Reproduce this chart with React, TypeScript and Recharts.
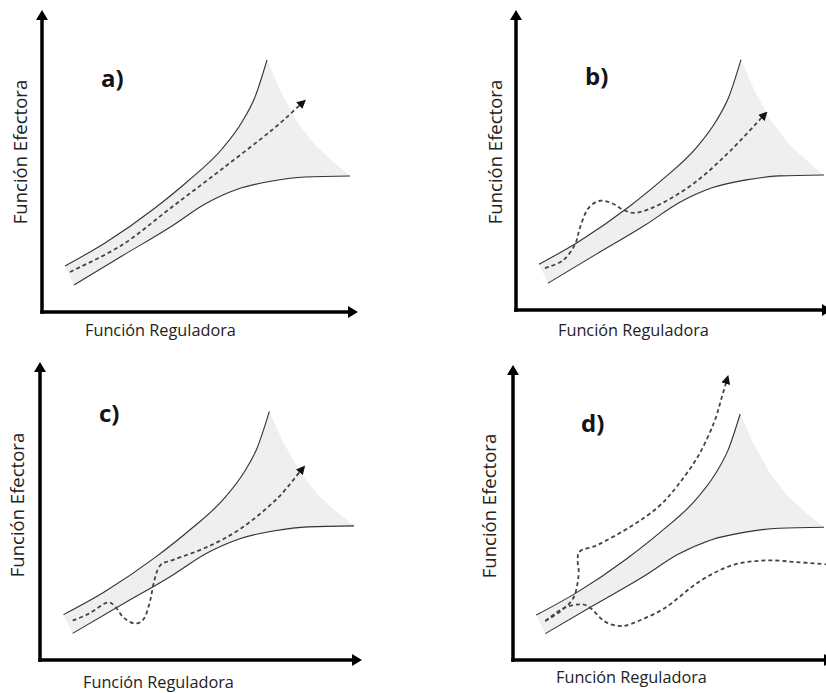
import { ComposedChart, Area, Line, XAxis, YAxis } from "recharts";

type Pt = { x: number; y: number };

// Canalization funnel (same drawing in all four panels)
// x = Función Reguladora, y = Función Efectora (arbitrary units, origin at the axes corner)
const UPPER_EDGE: Pt[] = [
  { x: 23, y: 46 },
  { x: 63, y: 69 },
  { x: 113, y: 104 },
  { x: 146, y: 131 },
  { x: 180, y: 163 },
  { x: 200, y: 190 },
  { x: 213, y: 215 },
  { x: 225, y: 252 },
];

const LOWER_EDGE: Pt[] = [
  { x: 32, y: 27 },
  { x: 80, y: 56 },
  { x: 130, y: 86 },
  { x: 163, y: 108 },
  { x: 196, y: 123 },
  { x: 230, y: 131 },
  { x: 263, y: 135 },
  { x: 308, y: 136 },
];

// shaded zone between the edges, closed on the right by a concave rim
const BAND_X = [23, 32, 63, 80, 113, 130, 146, 163, 180, 196, 213, 225, 238, 254, 272, 290, 308];
const BAND_LO = [46, 27, 46, 56, 76, 86, 97, 108, 115, 123, 127, 129, 131, 133, 135, 136, 136];
const BAND_HI = [46, 51, 69, 81, 104, 119, 131, 148, 163, 185, 215, 252, 222, 192, 168, 151, 136];

// trajectories (dashed)
const PATH_A: Pt[] = [
  { x: 28, y: 40 },
  { x: 80, y: 67 },
  { x: 130, y: 105 },
  { x: 180, y: 143 },
  { x: 230, y: 182 },
  { x: 258, y: 207 },
];

const PATH_B: Pt[] = [
  { x: 29, y: 42 },
  { x: 47, y: 50 },
  { x: 59, y: 66 },
  { x: 64, y: 83 },
  { x: 72, y: 102 },
  { x: 84, y: 110 },
  { x: 97, y: 107 },
  { x: 107, y: 101 },
  { x: 121, y: 98 },
  { x: 147, y: 108 },
  { x: 181, y: 130 },
  { x: 214, y: 160 },
  { x: 246, y: 194 },
];

const PATH_C: Pt[] = [
  { x: 32, y: 40 },
  { x: 48, y: 47 },
  { x: 65, y: 58 },
  { x: 73, y: 55 },
  { x: 82, y: 43 },
  { x: 93, y: 37 },
  { x: 102, y: 42 },
  { x: 108, y: 60 },
  { x: 112, y: 80 },
  { x: 118, y: 96 },
  { x: 132, y: 102 },
  { x: 165, y: 115 },
  { x: 198, y: 134 },
  { x: 232, y: 163 },
  { x: 255, y: 191 },
];

const PATH_D_UP: Pt[] = [
  { x: 32, y: 40 },
  { x: 47, y: 50 },
  { x: 60, y: 64 },
  { x: 65, y: 87 },
  { x: 64, y: 103 },
  { x: 67, y: 112 },
  { x: 84, y: 118 },
  { x: 117, y: 137 },
  { x: 144, y: 157 },
  { x: 164, y: 180 },
  { x: 184, y: 210 },
  { x: 199, y: 243 },
  { x: 207, y: 270 },
  { x: 211, y: 284 },
];

const PATH_D_DOWN: Pt[] = [
  { x: 32, y: 40 },
  { x: 50, y: 53 },
  { x: 67, y: 57 },
  { x: 77, y: 53 },
  { x: 90, y: 40 },
  { x: 104, y: 35 },
  { x: 117, y: 37 },
  { x: 150, y: 53 },
  { x: 184, y: 80 },
  { x: 217, y: 97 },
  { x: 250, y: 102 },
  { x: 284, y: 100 },
  { x: 310, y: 98 },
];

const PANEL_LETTERS = ["a)", "b)", "c)", "d)"];
const X_TITLE = "Función Reguladora";
const Y_TITLE = "Función Efectora";
const Y_MAX = 294;

// smooth curve through every point (Catmull-Rom), d3 curve interface
function catmullRom(context: any) {
  let pts: number[][] = [];
  return {
    areaStart() {},
    areaEnd() {},
    lineStart() {
      pts = [];
    },
    point(x: number, y: number) {
      pts.push([+x, +y]);
    },
    lineEnd() {
      if (!pts.length) return;
      context.moveTo(pts[0][0], pts[0][1]);
      for (let i = 0; i < pts.length - 1; i++) {
        const p0 = pts[i - 1] || pts[i];
        const p1 = pts[i];
        const p2 = pts[i + 1];
        const p3 = pts[i + 2] || p2;
        context.bezierCurveTo(
          p1[0] + (p2[0] - p0[0]) / 6,
          p1[1] + (p2[1] - p0[1]) / 6,
          p2[0] - (p3[0] - p1[0]) / 6,
          p2[1] - (p3[1] - p1[1]) / 6,
          p2[0],
          p2[1]
        );
      }
    },
  };
}

interface PanelCfg {
  id: string;
  left: number;
  top: number;
  width: number;
  height: number;
  // origin of the axes and the far ends of the axis lines, in panel pixels
  originX: number;
  originY: number;
  axisRight: number;
  axisTop: number;
  xMax: number;
  paths: { points: Pt[]; arrow: boolean }[];
  letter: { x: number; y: number };
  xTitle: { x: number; y: number };
  yTitle: { x: number; y: number };
}

const PANELS: PanelCfg[] = [
  {
    id: "a",
    left: 0,
    top: 0,
    width: 413,
    height: 347,
    originX: 42,
    originY: 312,
    axisRight: 350,
    axisTop: 18,
    xMax: 308,
    paths: [{ points: PATH_A, arrow: true }],
    letter: { x: 101, y: 78 },
    xTitle: { x: 85, y: 330 },
    yTitle: { x: 20, y: 152 },
  },
  {
    id: "b",
    left: 413,
    top: 0,
    width: 413,
    height: 347,
    originX: 103,
    originY: 310,
    axisRight: 411,
    axisTop: 18,
    xMax: 308,
    paths: [{ points: PATH_B, arrow: true }],
    letter: { x: 172, y: 76 },
    xTitle: { x: 145, y: 330 },
    yTitle: { x: 82, y: 152 },
  },
  {
    id: "c",
    left: 0,
    top: 347,
    width: 413,
    height: 346,
    originX: 40,
    originY: 313,
    axisRight: 354,
    axisTop: 23,
    xMax: 308,
    paths: [{ points: PATH_C, arrow: true }],
    letter: { x: 99, y: 66 },
    xTitle: { x: 83, y: 335 },
    yTitle: { x: 17, y: 158 },
  },
  {
    id: "d",
    left: 413,
    top: 347,
    width: 413,
    height: 346,
    originX: 100,
    originY: 313,
    axisRight: 413,
    axisTop: 26,
    xMax: 310,
    paths: [
      { points: PATH_D_UP, arrow: true },
      { points: PATH_D_DOWN, arrow: false },
    ],
    letter: { x: 168, y: 76 },
    xTitle: { x: 143, y: 330 },
    yTitle: { x: 76, y: 159 },
  },
];

const FONT = '"Open Sans", "Noto Sans", sans-serif';

function Panel({ cfg, letter }: { cfg: PanelCfg; letter: string }) {
  const band = BAND_X.map((x, i) => ({ x, band: [BAND_LO[i], BAND_HI[i]] }));
  const axisId = `axis-arrow-${cfg.id}`;
  const tipId = `path-arrow-${cfg.id}`;
  // axes need a 1px box to be drawn; the line sits on the plot edge
  const margin = {
    top: cfg.axisTop,
    left: cfg.originX - 1,
    right: cfg.width - cfg.axisRight,
    bottom: cfg.height - cfg.originY - 1,
  };
  return (
    <div
      style={{
        position: "absolute",
        left: cfg.left,
        top: cfg.top,
        width: cfg.width,
        height: cfg.height,
        overflow: "hidden",
      }}
    >
      <ComposedChart width={cfg.width} height={cfg.height} margin={margin}>
        <defs>
          <marker
            id={axisId}
            viewBox="0 0 10 12"
            markerWidth={10}
            markerHeight={12}
            refX={2}
            refY={6}
            markerUnits="userSpaceOnUse"
            orient="auto-start-reverse"
          >
            <path d="M0,0 L10,6 L0,12 z" fill="#000" />
          </marker>
          <marker
            id={tipId}
            viewBox="0 0 9 9"
            markerWidth={9}
            markerHeight={9}
            refX={1}
            refY={4.5}
            markerUnits="userSpaceOnUse"
            orient="auto"
          >
            <path d="M0,0 L9,4.5 L0,9 z" fill="#111" />
          </marker>
        </defs>
        <XAxis
          type="number"
          dataKey="x"
          domain={[0, cfg.xMax]}
          height={1}
          tick={false}
          tickLine={false}
          axisLine={{
            stroke: "#000",
            strokeWidth: 3.5,
            strokeLinecap: "square",
            markerEnd: `url(#${axisId})`,
          }}
        />
        <YAxis
          type="number"
          domain={[0, Y_MAX]}
          width={1}
          tick={false}
          tickLine={false}
          axisLine={{
            stroke: "#000",
            strokeWidth: 3.5,
            strokeLinecap: "square",
            markerStart: `url(#${axisId})`,
          }}
        />
        <Area
          data={band}
          dataKey="band"
          type="linear"
          stroke="none"
          fill="#efefef"
          fillOpacity={1}
          activeDot={false}
          isAnimationActive={false}
        />
        <Line
          data={UPPER_EDGE}
          dataKey="y"
          type="monotone"
          stroke="#333"
          strokeWidth={1.1}
          dot={false}
          activeDot={false}
          isAnimationActive={false}
        />
        <Line
          data={LOWER_EDGE}
          dataKey="y"
          type="monotone"
          stroke="#333"
          strokeWidth={1.1}
          dot={false}
          activeDot={false}
          isAnimationActive={false}
        />
        {cfg.paths.map((p, i) => (
          <Line
            key={i}
            data={p.points}
            dataKey="y"
            type={catmullRom as any}
            stroke="#444"
            strokeWidth={1.8}
            strokeDasharray="4 3"
            markerEnd={p.arrow ? `url(#${tipId})` : undefined}
            dot={false}
            activeDot={false}
            isAnimationActive={false}
          />
        ))}
      </ComposedChart>

      <div
        style={{
          position: "absolute",
          left: cfg.letter.x,
          top: cfg.letter.y - 16,
          fontFamily: FONT,
          fontWeight: 700,
          fontSize: 24,
          lineHeight: "32px",
          color: "#141414",
        }}
      >
        {letter}
      </div>
      <div
        style={{
          position: "absolute",
          left: cfg.xTitle.x,
          top: cfg.xTitle.y - 11,
          fontFamily: FONT,
          fontSize: 16.3,
          lineHeight: "22px",
          color: "#222",
          whiteSpace: "nowrap",
        }}
      >
        {X_TITLE}
      </div>
      <div
        style={{
          position: "absolute",
          left: cfg.yTitle.x - 90,
          top: cfg.yTitle.y - 12,
          width: 180,
          textAlign: "center",
          fontFamily: FONT,
          fontSize: 18.5,
          lineHeight: "24px",
          color: "#222",
          whiteSpace: "nowrap",
          transform: "rotate(-90deg)",
        }}
      >
        {Y_TITLE}
      </div>
    </div>
  );
}

export default function App() {
  return (
    <div
      style={{
        position: "absolute",
        left: 0,
        top: 0,
        width: 826,
        height: 693,
        background: "#fff",
        overflow: "hidden",
      }}
    >
      {PANELS.map((cfg, i) => (
        <Panel key={cfg.id} cfg={cfg} letter={PANEL_LETTERS[i]} />
      ))}
    </div>
  );
}
